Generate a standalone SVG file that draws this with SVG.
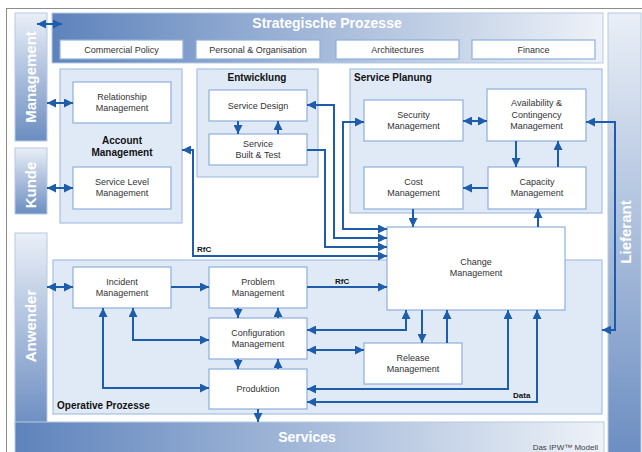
<svg xmlns="http://www.w3.org/2000/svg" width="642" height="452" viewBox="0 0 642 452">
<style>
.bar{stroke:#b7c9e3;stroke-width:1}
.cont{fill:#e0e9f6;stroke:#a7c0e2;stroke-width:1.2}
.node{fill:#ffffff;stroke:#8eb0dc;stroke-width:1.2}
.t{font-family:"Liberation Sans",Arial,sans-serif;font-size:9px;fill:#333;text-anchor:middle}
.b{font-family:"Liberation Sans",Arial,sans-serif;font-size:10px;font-weight:bold;fill:#111}
.w{font-family:"Liberation Sans",Arial,sans-serif;font-weight:bold;fill:#ffffff;text-anchor:middle}
.lbl{font-family:"Liberation Sans",Arial,sans-serif;font-size:8px;font-weight:bold;fill:#111}
.c path{fill:none;stroke:#1d5dab;stroke-width:2}
.e{marker-end:url(#ah)}
.d{marker-end:url(#ah);marker-start:url(#ah)}
</style>
<defs>
<linearGradient id="gV" x1="0" y1="0" x2="0" y2="1">
<stop offset="0" stop-color="#eaeff7"/><stop offset="1" stop-color="#6b8dc1"/>
</linearGradient>
<linearGradient id="gH" x1="0" y1="0" x2="1" y2="0">
<stop offset="0" stop-color="#5e83bc"/><stop offset="1" stop-color="#eef2f8"/>
</linearGradient>
<marker id="ah" markerUnits="userSpaceOnUse" markerWidth="10" markerHeight="9" refX="9" refY="4.5" orient="auto-start-reverse">
<path d="M0,0 L9,4.5 L0,9 z" fill="#1d5dab"/>
</marker>
</defs>
<rect x="0" y="0" width="642" height="452" fill="#ffffff"/>
<rect x="6.5" y="8.5" width="640" height="450" fill="none" stroke="#8c8c8c" stroke-width="1"/>

<g id="management">
<rect class="bar" x="15" y="13" width="32" height="128" fill="url(#gV)"/>
<text class="w" font-size="15" transform="translate(36,77) rotate(-90)">Management</text>
</g>
<g id="kunde">
<rect class="bar" x="15" y="148" width="32" height="66" fill="url(#gV)"/>
<text class="w" font-size="15" transform="translate(36,185) rotate(-90)">Kunde</text>
</g>
<g id="anwender">
<rect class="bar" x="15" y="233" width="32" height="195" fill="url(#gV)"/>
<text class="w" font-size="15" transform="translate(36,326) rotate(-90)">Anwender</text>
</g>
<g id="lieferant">
<rect class="bar" x="608" y="13" width="33" height="445" fill="url(#gV)"/>
<text class="w" font-size="15" transform="translate(631,232) rotate(-90)">Lieferant</text>
</g>
<g id="services">
<rect class="bar" x="15" y="422" width="589" height="36" fill="url(#gH)"/>
<text class="w" font-size="14" x="307" y="442">Services</text>
<text x="598" y="450" font-family="Liberation Sans,Arial,sans-serif" font-size="8" fill="#444" text-anchor="end">Das IPW™ Modell</text>
</g>
<g id="strategische-prozesse">
<rect class="bar" x="52" y="13" width="551" height="50" fill="url(#gH)"/>
<text class="w" font-size="14" x="327" y="28">Strategische Prozesse</text>
</g>
<g id="commercial-policy"><rect class="node" x="60" y="40" width="123" height="19"/><text class="t" x="121.5" y="52.5">Commercial Policy</text></g>
<g id="personal-organisation"><rect class="node" x="196" y="40" width="124" height="19"/><text class="t" x="258" y="52.5">Personal &amp; Organisation</text></g>
<g id="architectures"><rect class="node" x="336" y="40" width="123" height="19"/><text class="t" x="397.5" y="52.5">Architectures</text></g>
<g id="finance"><rect class="node" x="472" y="40" width="123" height="19"/><text class="t" x="533.5" y="52.5">Finance</text></g>

<g id="account-management">
<rect class="cont" x="60" y="69" width="122" height="154"/>
<text class="b" x="122" y="144" text-anchor="middle">Account</text>
<text class="b" x="122" y="156" text-anchor="middle">Management</text>
</g>
<g id="relationship-management"><rect class="node" x="73" y="82" width="98" height="41"/><text class="t" x="122" y="99.5">Relationship</text><text class="t" x="122" y="110.5">Management</text></g>
<g id="service-level-management"><rect class="node" x="73" y="167" width="98" height="42"/><text class="t" x="122" y="185">Service Level</text><text class="t" x="122" y="196">Management</text></g>

<g id="entwicklung">
<rect class="cont" x="197" y="69" width="121" height="108"/>
<text class="b" x="257" y="81" text-anchor="middle">Entwicklung</text>
</g>
<g id="service-design"><rect class="node" x="209" y="90" width="98" height="31"/><text class="t" x="258" y="108.5">Service Design</text></g>
<g id="service-built-test"><rect class="node" x="209" y="134" width="98" height="31"/><text class="t" x="258" y="146.5">Service</text><text class="t" x="258" y="158">Built &amp; Test</text></g>

<g id="service-planung">
<rect class="cont" x="350" y="69" width="252" height="144"/>
<text class="b" x="354" y="81">Service Planung</text>
</g>
<g id="security-management"><rect class="node" x="364" y="100" width="99" height="41"/><text class="t" x="413.5" y="118">Security</text><text class="t" x="413.5" y="129">Management</text></g>
<g id="availability-management"><rect class="node" x="487" y="89" width="99" height="52"/><text class="t" x="536.5" y="106">Availability &amp;</text><text class="t" x="536.5" y="118">Contingency</text><text class="t" x="536.5" y="129">Management</text></g>
<g id="cost-management"><rect class="node" x="364" y="167" width="99" height="42"/><text class="t" x="413.5" y="185">Cost</text><text class="t" x="413.5" y="196">Management</text></g>
<g id="capacity-management"><rect class="node" x="488" y="167" width="98" height="42"/><text class="t" x="537" y="185">Capacity</text><text class="t" x="537" y="196">Management</text></g>

<g id="operative-prozesse">
<rect class="cont" x="53" y="260" width="549" height="154"/>
<text class="b" x="57" y="409">Operative Prozesse</text>
</g>
<g id="change-management"><rect class="node" x="387" y="227" width="178" height="83"/><text class="t" x="476" y="265">Change</text><text class="t" x="476" y="276">Management</text></g>
<g id="incident-management"><rect class="node" x="73" y="267" width="98" height="41"/><text class="t" x="122" y="284.5">Incident</text><text class="t" x="122" y="295.5">Management</text></g>
<g id="problem-management"><rect class="node" x="209" y="267" width="98" height="41"/><text class="t" x="258" y="284.5">Problem</text><text class="t" x="258" y="295.5">Management</text></g>
<g id="configuration-management"><rect class="node" x="209" y="318" width="98" height="41"/><text class="t" x="258" y="336">Configuration</text><text class="t" x="258" y="347">Management</text></g>
<g id="produktion"><rect class="node" x="209" y="369" width="98" height="40"/><text class="t" x="258" y="391.5">Produktion</text></g>
<g id="release-management"><rect class="node" x="364" y="343" width="98" height="41"/><text class="t" x="413" y="360.5">Release</text><text class="t" x="413" y="372">Management</text></g>

<g id="connectors" class="c">
<path class="d" d="M37,24 H62"/>
<path class="d" d="M47,103 H73"/>
<path class="d" d="M47,188 H73"/>
<path class="d" d="M47,287 H73"/>
<path class="e" d="M171,287 H209"/>
<path class="e" d="M307,287 H387"/>
<path class="e" d="M238,121 V134"/>
<path class="e" d="M278,134 V121"/>
<path class="e" d="M238,308 V318"/>
<path class="e" d="M278,318 V308"/>
<path class="e" d="M238,359 V369"/>
<path class="e" d="M278,369 V359"/>
<path class="d" d="M133,308 V340 H209"/>
<path class="d" d="M103,308 V388 H209"/>
<path class="e" d="M258,409 V422"/>
<path class="d" d="M307,330 H406 V310"/>
<path class="d" d="M307,350 H364"/>
<path class="e" d="M422,310 V343"/>
<path class="e" d="M447,343 V310"/>
<path class="d" d="M307,389 H508 V310"/>
<path class="d" d="M307,402 H537 V310"/>
<path class="d" d="M586,122 H615 V330 H602"/>
<path class="d" d="M463,121 H487"/>
<path class="e" d="M516,141 V167"/>
<path class="e" d="M558,167 V141"/>
<path class="e" d="M488,188 H463"/>
<path class="e" d="M413,209 V227"/>
<path class="e" d="M538,227 V209"/>
<path class="d" d="M182,150 H193 V256 H387"/>
<path class="e" d="M307,150 H325 V247 H387"/>
<path class="d" d="M307,105 H334 V238 H387"/>
<path class="d" d="M364,122 H343 V229 H387"/>
</g>
<text class="lbl" x="197" y="252">RfC</text>
<text class="lbl" x="335" y="284">RfC</text>
<text class="lbl" x="513" y="398">Data</text>
</svg>
